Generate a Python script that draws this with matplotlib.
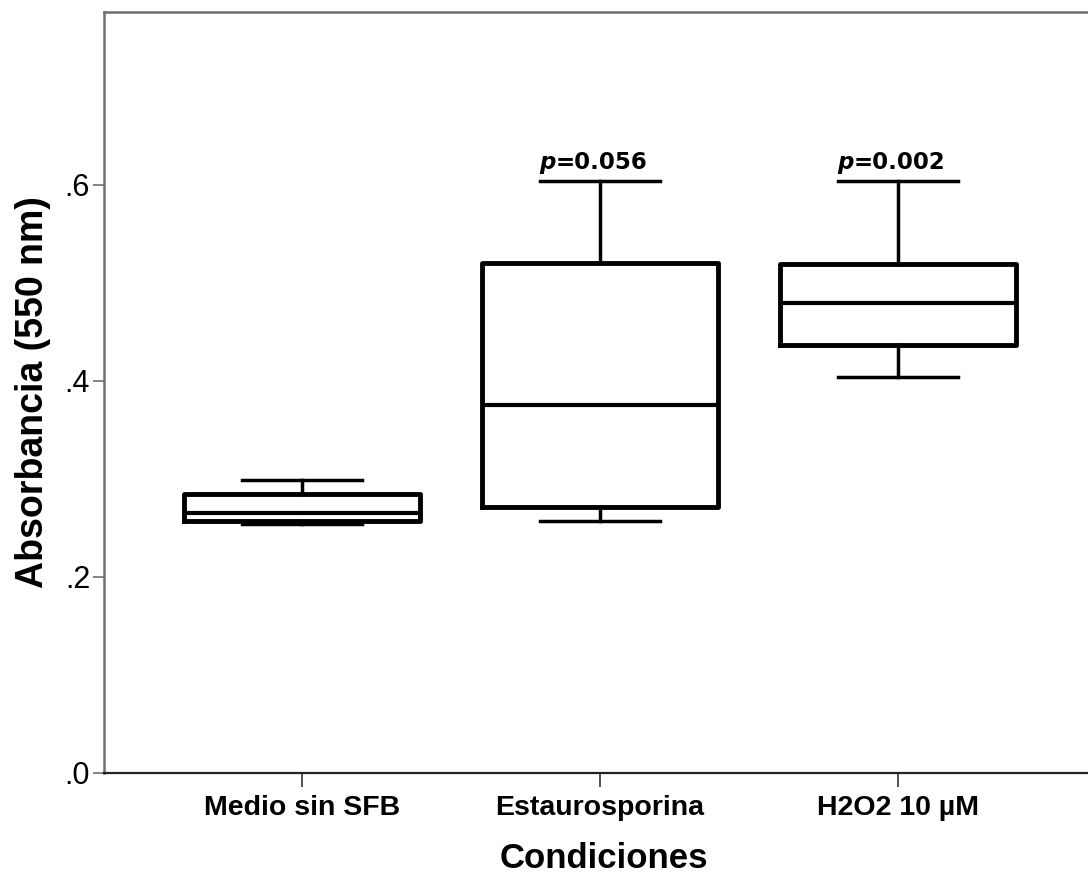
import matplotlib.pyplot as plt
from matplotlib.ticker import FuncFormatter

# Box statistics (Absorbancia 550 nm)
condiciones = ["Medio sin SFB", "Estaurosporina", "H2O2 10 µM"]
whisker_low = [0.254, 0.257, 0.404]
q1 = [0.257, 0.271, 0.437]
medians = [0.265, 0.376, 0.480]
q3 = [0.285, 0.520, 0.519]
whisker_high = [0.299, 0.604, 0.604]
p_labels = [None, "=0.056", "=0.002"]

positions = [1, 2, 3]

stats = []
for i, name in enumerate(condiciones):
    stats.append({
        "label": name,
        "whislo": whisker_low[i],
        "q1": q1[i],
        "med": medians[i],
        "q3": q3[i],
        "whishi": whisker_high[i],
        "fliers": [],
    })

plt.rcParams['font.family'] = ['Liberation Sans', 'DejaVu Sans']

fig = plt.figure(figsize=(10.88, 8.74), dpi=100)
ax = fig.add_axes([104 / 1088, 101 / 874, 1000 / 1088, 761 / 874])

ax.bxp(stats, positions=positions, widths=0.795, capwidths=0.4,
       showfliers=False, patch_artist=False,
       boxprops=dict(color="black", linewidth=3.5),
       medianprops=dict(color="black", linewidth=3.0),
       whiskerprops=dict(color="black", linewidth=2.5),
       capprops=dict(color="black", linewidth=2.5))

# p-values above the upper whiskers
for pos, hi, lab in zip(positions, whisker_high, p_labels):
    if lab is None:
        continue
    ax.text(pos - 0.15, hi + 0.012, "p", ha="right", va="baseline",
            fontsize=16.5, fontweight="bold", fontstyle="italic",
            family="DejaVu Sans")
    ax.text(pos - 0.15, hi + 0.012, lab, ha="left", va="baseline",
            fontsize=16.5, fontweight="bold", family="DejaVu Sans")

ax.set_xlim(0.3356, 0.3356 + 1000 / 298)
ax.set_ylim(0, 0.7765)
ax.set_yticks([0, 0.2, 0.4, 0.6])
ax.yaxis.set_major_formatter(FuncFormatter(lambda v, _: f"{v:.1f}".lstrip("0")))
ax.set_xticks(positions)
ax.set_xticklabels(condiciones, fontsize=20.5, fontweight="bold")

for s in ["left", "top"]:
    ax.spines[s].set_color("#6e6e6e")
    ax.spines[s].set_linewidth(1.8)
ax.spines["bottom"].set_color("#222222")
ax.spines["bottom"].set_linewidth(1.6)
ax.spines["right"].set_visible(False)

ax.tick_params(axis="y", direction="out", length=8, width=1.2, color="#6e6e6e",
               labelsize=22, pad=2)
ax.tick_params(axis="x", direction="out", length=10, width=1.2, color="#333333",
               pad=6)

ax.set_ylabel("Absorbancia (550 nm)", fontsize=27, fontweight="bold", labelpad=10)
ax.set_xlabel("Condiciones", fontsize=25, fontweight="bold", labelpad=15)

fig.savefig("out.png", dpi=100)
